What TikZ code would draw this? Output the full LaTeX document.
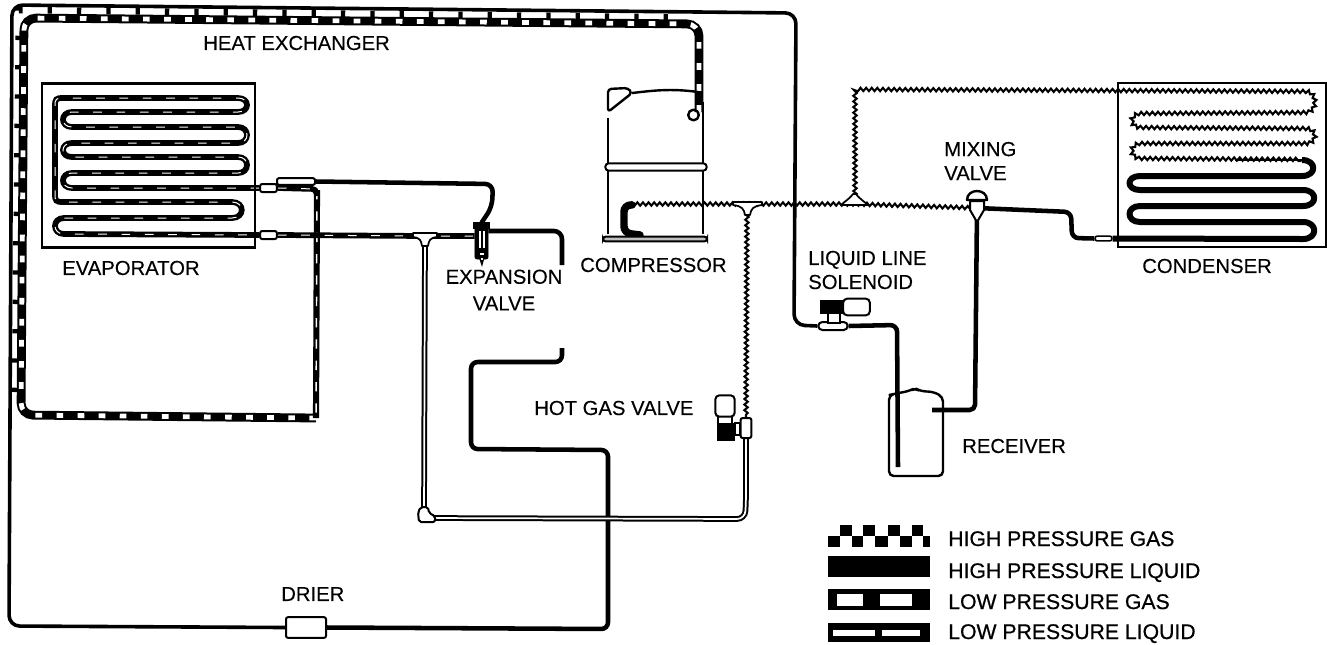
\documentclass[tikz,border=0pt]{standalone}
\usepackage{fontspec}
\setmainfont[FakeBold=0.25]{Liberation Sans}
\newfontfamily\legfont[FakeBold=0.6]{Liberation Sans}
\usetikzlibrary{decorations.pathmorphing,backgrounds}
\tikzset{
  hpl/.style={draw=black,line width=3.4pt,line join=round},
  hplthin/.style={draw=black,line width=2.7pt,line join=round},
  coilhp/.style={draw=black,line width=4.5pt,line join=round},
  lpl/.style={preaction={draw=black,solid,line width=4.3pt},draw=white,line width=.75pt,dash pattern=on 6.5pt off 11pt},
  lpltube/.style={preaction={draw=black,solid,line width=4.6pt},draw=white,line width=1.1pt,dash pattern=on 7pt off 9pt},
  lpgtube/.style={draw=black,double=white,line width=1.5pt,double distance=1.3pt},
  hxline/.style={preaction={draw=black,solid,line width=6.6pt},draw=white,line width=3.6pt,dash pattern=on 5pt off 10.8pt},
  hxties/.style={draw=black,line width=5pt,dash pattern=on 3.2pt off 18.8pt},
  hpg/.style={draw=black,line width=1.55pt,decorate,decoration={snake,segment length=4.2pt,amplitude=1.25pt}},
  frame/.style={draw=black,line width=1.6pt},
  pipebox/.style={draw=black,fill=white,line width=1.5pt,rounded corners=1.5pt,inner sep=0pt},
  shell/.style={draw=black,line width=1.8pt,line join=round},
  blackbox/.style={draw=black,fill=black,inner sep=0pt},
  lbl/.style={font=\fontsize{15.2pt}{18pt}\selectfont,inner sep=0pt,anchor=west,align=left},
  leg/.style={font=\legfont\fontsize{15.9pt}{18pt}\selectfont,inner sep=0pt,anchor=base west},
}
\begin{document}
\begin{tikzpicture}[x=0.75pt,y=-0.75pt]
\useasboundingbox (0,0) rectangle (1327,644);

% ---- frames
\node[frame,minimum width=159.75pt,minimum height=123pt,inner sep=0pt] (evap) at (148.5,165.5) {};
\node[frame,minimum width=156pt,minimum height=123pt,inner sep=0pt] (cond) at (1222,165) {};

% ---- component nodes
\node[pipebox,minimum width=30pt,minimum height=15.5pt] (drier) at (306,627.5) {};
\node[pipebox,minimum width=12.5pt,minimum height=6pt] (cA) at (268.5,188) {};
\node[pipebox,minimum width=12.5pt,minimum height=6pt] (cB) at (268.5,235) {};
\node[pipebox,minimum width=28.5pt,minimum height=5pt] (hxbox) at (296,181.5) {};
\node[pipebox,minimum width=12.5pt,minimum height=3.6pt,line width=1.2pt] (cC) at (1103.5,238.5) {};
\node[pipebox,minimum width=22pt,minimum height=6pt,rounded corners=3pt] (sol) at (833,326) {};
\node[pipebox,minimum width=9pt,minimum height=8pt,rounded corners=0pt] (solstem) at (834,317.5) {};
\node[blackbox,minimum width=17pt,minimum height=9.5pt] (solcoil) at (831.5,306.5) {};
\node[pipebox,minimum width=20pt,minimum height=12.5pt,rounded corners=3pt] (solcap) at (856.5,307) {};
\node[pipebox,minimum width=8pt,minimum height=15pt] (hgbody) at (746,428) {};
\node[pipebox,minimum width=4pt,minimum height=9.5pt,rounded corners=0pt] (hgneck) at (737.5,429) {};
\node[pipebox,minimum width=10pt,minimum height=6pt,rounded corners=0pt] (hgstem) at (725,420) {};
\node[pipebox,minimum width=14.5pt,minimum height=16pt,rounded corners=3pt] (hgcap) at (725,406) {};
\node[blackbox,minimum width=13pt,minimum height=12.5pt] (hgcoil) at (726,431.5) {};
\node[pipebox,minimum width=76pt,minimum height=5.5pt,rounded corners=2.5pt] (band) at (656,167) {};
\node[draw=black,fill=black!25,line width=1.5pt,rounded corners=2pt,inner sep=0pt,minimum width=78pt,minimum height=3.6pt] (base) at (655,239) {};
\node[blackbox,minimum width=10pt,minimum height=27pt,rounded corners=1.5pt] (expv) at (481.5,241) {};
\coordinate (teeA) at (425,236);
\coordinate (teeB) at (747,204);
\coordinate (teeC) at (855,204);
\coordinate (mix) at (977,208);

% ---- piping (under the component nodes)
\begin{scope}[on background layer]
% high pressure liquid outer line, wraps round the heat exchanger
\draw[hplthin,rounded corners=8pt] (drier.west) -- (9,626) -- (12,5) -- (796,13) -- (794,325) -- (sol.west);
\draw[hpl,rounded corners=5pt] (sol.east) -- (897,325) -- (898,467);
\draw[hpl,rounded corners=5pt] (drier.east) -- (608,629) -- (608,450) -- (471,449) -- (471,362) -- (562,362) -- (562,348);
\draw[hpl,rounded corners=6pt] (562,265) -- (562,231) -- (expv.east |- 0,231);
\draw[hpl,rounded corners=6pt] (hxbox.east) -- (493,184) -- (492,207) -- (expv.north);
\draw[hpl,rounded corners=4pt] (932,410) -- (975,410) -- (mix);
\draw[hpl,rounded corners=5pt] (mix) -- (1071,212) -- (1072,238) -- (cC.west);
% heat exchanger
\draw[hxties] (15,392) -- (19,10) -- (686,17.5);
\draw[hxline,rounded corners=9pt] (316,418) -- (21,415) -- (24,18) -- (699,24) -- (699,112);
\draw[lpltube] (317,190) -- (316,418);
\draw[lpl,rounded corners=3pt] (cA.east) -- (316,189) -- (317,196);
% evaporator coils
\draw[lpl] (cA.west) -- (72,188) .. controls +(-12,0) and +(-12,0) .. (72,173) -- (238,173)
  .. controls +(12,0) and +(12,0) .. (238,157) -- (72,157) .. controls +(-12,0) and +(-12,0) .. (72,143)
  -- (238,143) .. controls +(12,0) and +(12,0) .. (238,127) -- (72,127) .. controls +(-12,0) and +(-12,0) .. (72,112)
  -- (238,112) .. controls +(12,0) and +(12,0) .. (238,98) -- (63,98) .. controls +(-7,0) and +(0,-7) .. (55,106)
  -- (55,194) .. controls +(0,7) and +(-7,0) .. (63,202) -- (232,202) .. controls +(13,0) and +(13,0) .. (232,218)
  -- (64,218) .. controls +(-12,0) and +(-12,0) .. (64,234) -- (cB.west);
\draw[lpl] (cB.east) -- (teeA) -- (expv.west |- teeA);
\draw[lpgtube,rounded corners=6pt] (teeA) -- (424,518) -- (745,519) -- (746,500) -- (hgbody.south);
% high pressure gas
\draw[hpg] (630,204) -- (teeB) -- (teeC) -- (mix);
\draw[hpg] (teeB) -- (hgbody.north);
\draw[hpg] (teeC) -- (855,98) .. controls +(0,-8) and +(-8,0) .. (863,90) -- (1306,92) .. controls +(12,0) and +(12,0) .. (1306,113)
  -- (1141,114) .. controls +(-12,0) and +(-12,0) .. (1141,128) -- (1306,129)
  .. controls +(12,0) and +(12,0) .. (1306,144) -- (1141,144)
  .. controls +(-12,0) and +(-12,0) .. (1141,159) -- (1304,160);
\draw[draw=black,line width=2.2pt] (1235,160) -- (1304,160);
% condenser high pressure liquid part
\draw[coilhp] (1302,160) .. controls +(15,0) and +(15,0) .. (1302,176) -- (1140,176)
  .. controls +(-14,0) and +(-14,0) .. (1140,190) -- (1303,190)
  .. controls +(15,0) and +(15,0) .. (1303,206) -- (1140,206)
  .. controls +(-14,0) and +(-14,0) .. (1140,222) -- (1303,222)
  .. controls +(15,0) and +(15,0) .. (1303,239) -- (cC.east);
% compressor discharge
\draw[draw=black,line width=5.6pt,rounded corners=5pt,line cap=round] (632,205) -- (624,205) -- (624,233) -- (640,235);
% compressor shell
\draw[shell] (608,118) -- (608,234);
\draw[shell] (703,102) -- (703,234);
\draw[shell,rounded corners=2.5pt] (608,112) -- (608,89) -- (628,88) -- (632,93) -- cycle;
\draw[shell] (632,93) .. controls (650,91) and (670,88) .. (698,92);
\draw[shell] (693.5,115) circle[radius=4pt];
\end{scope}

% ---- elbow of the low pressure tube
\filldraw[fill=white,draw=black,line width=1.5pt,line join=round,rounded corners=1.5pt] (421,507) -- (428,507) -- (429,513) -- (435,516) -- (435,522) -- (419,522) -- (418,512) -- cycle;

% ---- receiver
\draw[shell,rounded corners=3.5pt] (889,395) -- (889,476) -- (943,476) -- (943,397) -- (934,392) -- (920,391) -- (915,388) -- (909,391) -- (894,394) -- cycle;

% ---- expansion valve detail
\fill[black] (477,252) -- (482,267) -- (486,252) -- cycle;
\fill[black] (473,222) rectangle (490,229);
\fill[white] (478.5,231) rectangle (480.5,248);
\fill[white] (482.5,231) rectangle (484.5,248);
\fill[white] (480,253) rectangle (483.5,255);
\fill[white] (480.5,258) rectangle (483,260);

% ---- tees and mixing valve
\filldraw[fill=white,draw=black,line width=1.3pt,line join=round] (413,233) -- (437,233) -- (437,237) .. controls (430,238) and (429,240) .. (428,246) -- (422,246) .. controls (421,240) and (420,238) .. (413,237) -- cycle;
\filldraw[fill=white,draw=black,line width=1.3pt,line join=round] (733,202) -- (762,202) -- (762,205) .. controls (753,206) and (751,209) .. (750,215) -- (745,215) .. controls (744,209) and (742,206) .. (733,205) -- cycle;
\filldraw[fill=white,draw=black,line width=1.3pt,line join=round] (841,205) -- (868,205) .. controls (862,200) and (858,197) .. (856,194) -- (853,194) .. controls (851,197) and (847,200) .. (841,205) -- cycle;
\filldraw[fill=white,draw=black,line width=1.5pt,line join=round] (970,201) -- (984,201) -- (984,210) -- (977,222) -- (970,210) -- cycle;
\filldraw[fill=white,draw=black,line width=1.8pt,line join=round] (967,200) .. controls (967,188) and (987,188) .. (987,200) -- cycle;

% ---- labels
\node[lbl] (tHX) at (203,43) {HEAT EXCHANGER};
\node[lbl] (tEV) at (62,268) {EVAPORATOR};
\node[lbl,align=center,anchor=center,font=\fontsize{15.2pt}{20pt}\selectfont] (tEX) at (504,290) {EXPANSION\\VALVE};
\node[lbl] (tCO) at (580,265) {COMPRESSOR};
\node[lbl] (tLL) at (808,270) {LIQUID LINE\\SOLENOID};
\node[lbl] (tMX) at (944,161) {MIXING\\VALVE};
\node[lbl] (tCD) at (1142,266) {CONDENSER};
\node[lbl] (tRC) at (962,446) {RECEIVER};
\node[lbl] (tHG) at (534,408) {HOT GAS VALVE};
\node[lbl] (tDR) at (281,594) {DRIER};

% ---- legend
\fill[black] (828,536) rectangle (930,547);
\foreach \a/\b in {840/852,863/875,888/900,912/923} \fill[black] (\a,525) rectangle (\b,536);
\foreach \a/\b in {840/852,863/875,888/900,912/923} \fill[white] (\a,536) rectangle (\b,547);
\fill[black] (828,556) rectangle (930,577);
\fill[black] (828,589) rectangle (930,610);
\fill[white] (837,594) rectangle (863,606);
\fill[white] (880,594) rectangle (912,606);
\fill[black] (828,623) rectangle (930,642);
\fill[white] (833,630) rectangle (875,636);
\fill[white] (882,630) rectangle (920,636);
\node[leg] (l1) at (948,546) {HIGH PRESSURE GAS};
\node[leg] (l2) at (948,578) {HIGH PRESSURE LIQUID};
\node[leg] (l3) at (948,609) {LOW PRESSURE GAS};
\node[leg] (l4) at (948,639) {LOW PRESSURE LIQUID};
\end{tikzpicture}
\end{document}
